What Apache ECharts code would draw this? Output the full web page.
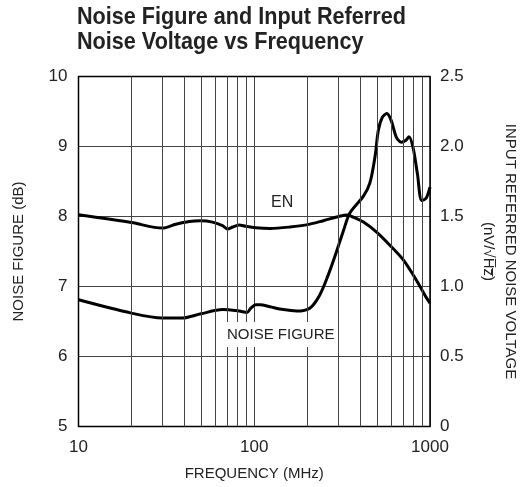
<!DOCTYPE html>
<html><head><meta charset="utf-8">
<script src="https://cdn.jsdelivr.net/npm/echarts@6/dist/echarts.min.js"></script>
<style>html,body{margin:0;padding:0;background:#fff}#c{width:523px;height:487px}</style>
</head><body><div id="c"></div>
<script>
// Data (frequency in MHz)
const enFreq = [10, 20, 30, 35.8, 42.7, 49.7, 57.9, 66, 70.5, 75.4, 82, 89.6, 102, 123, 160, 198, 247, 306, 340, 366, 418, 495, 591, 705, 837, 934, 1000];
const enValue = [1.512, 1.457, 1.417, 1.445, 1.465, 1.47, 1.46, 1.435, 1.41, 1.425, 1.44, 1.43, 1.42, 1.415, 1.425, 1.44, 1.47, 1.502, 1.51, 1.495, 1.46, 1.39, 1.295, 1.19, 1.045, 0.94, 0.88];
const nfFreq = [10, 20, 30, 39, 49.7, 66, 82, 91, 95.6, 102, 108, 123, 146, 174, 207, 236, 264, 294, 321, 350, 418, 455, 487, 508, 536, 568, 602, 644, 688, 729, 759, 800, 848, 897, 950, 1000];
const nfValue = [6.81, 6.62, 6.55, 6.55, 6.61, 6.67, 6.65, 6.63, 6.69, 6.74, 6.74, 6.71, 6.67, 6.65, 6.69, 6.88, 7.17, 7.5, 7.79, 8.05, 8.29, 8.48, 8.86, 9.23, 9.42, 9.47, 9.37, 9.13, 9.06, 9.09, 9.14, 8.99, 8.61, 8.23, 8.26, 8.42];
const minorGridFreq = [20, 30, 40, 50, 60, 70, 80, 90, 200, 300, 400, 500, 600, 700, 800, 900];
const rightTicks = ['0', '0.5', '1.0', '1.5', '2.0', '2.5'];

const FONT = "'Liberation Sans', Arial, sans-serif";
const TXT = '#222';
const chart = echarts.init(document.getElementById('c'), null, {renderer: 'canvas'});
chart.setOption({
  animation: false,
  grid: {left: 78.5, right: 93, top: 76.5, bottom: 60.5, outerBoundsMode: 'none'},
  xAxis: {
    type: 'log', logBase: 10, min: 10, max: 1000,
    name: 'FREQUENCY (MHz)', nameLocation: 'middle', nameGap: 40,
    nameTextStyle: {fontFamily: FONT, fontSize: 15, color: TXT},
    axisLine: {show: false}, axisTick: {show: false},
    axisLabel: {fontFamily: FONT, fontSize: 17, color: TXT, margin: 12, formatter: v => String(v)},
    splitLine: {show: true, lineStyle: {color: '#444', width: 1}}
  },
  yAxis: [{
    type: 'value', min: 5, max: 10, interval: 1,
    name: 'NOISE FIGURE (dB)', nameLocation: 'middle', nameGap: 52, nameRotate: 90,
    nameTextStyle: {fontFamily: FONT, fontSize: 15, color: TXT},
    axisLine: {show: false}, axisTick: {show: false},
    axisLabel: {fontFamily: FONT, fontSize: 17, color: TXT, margin: 11},
    splitLine: {show: true, lineStyle: {color: '#444', width: 1}}
  }, {
    type: 'value', min: 0, max: 2.5, interval: 0.5, position: 'right',
    name: 'INPUT REFERRED NOISE VOLTAGE\n(nV/√H\u0305z\u0305)', nameLocation: 'middle', nameGap: 47, nameRotate: -90,
    nameTextStyle: {fontFamily: FONT, fontSize: 15, color: TXT, lineHeight: 22, align: 'center'},
    axisLine: {show: false}, axisTick: {show: false},
    axisLabel: {fontFamily: FONT, fontSize: 17, color: TXT, margin: 10,
      formatter: (v) => rightTicks[Math.round(v / 0.5)]},
    splitLine: {show: false}
  }],
  series: [{
    type: 'line', name: 'EN', yAxisIndex: 1, symbol: 'none',
    smooth: 0.3,
    lineStyle: {color: '#000', width: 3},
    data: enFreq.map((f, i) => [f, enValue[i]]),
    markLine: {
      silent: true, symbol: 'none', label: {show: false},
      lineStyle: {color: '#444', width: 1, type: 'solid'},
      data: minorGridFreq.map(f => ({xAxis: f}))
    },
    z: 3
  }, {
    type: 'line', name: 'NOISE FIGURE', yAxisIndex: 0, symbol: 'none',
    smooth: 0.3,
    lineStyle: {color: '#000', width: 3},
    data: nfFreq.map((f, i) => [f, nfValue[i]]),
    z: 3
  }, {
    type: 'line', yAxisIndex: 0, symbol: 'none', silent: true,
    lineStyle: {width: 0}, data: [],
    markArea: {silent: true, itemStyle: {color: 'rgba(0,0,0,0)', borderColor: '#000', borderWidth: 1.5},
      data: [[{xAxis: 10, yAxis: 5}, {xAxis: 1000, yAxis: 10}]]}
  }],
  graphic: [
    {type: 'text', x: 77, y: 5, scaleX: 0.9, z: 10,
      style: {text: 'Noise Figure and Input Referred\nNoise Voltage vs Frequency', fontFamily: FONT, fontWeight: 'bold', fontSize: 24, lineHeight: 25, fill: TXT}},
    {type: 'text', x: 271, y: 195, z: 10,
      style: {text: 'EN', fontFamily: FONT, fontSize: 16, fill: TXT}},
    {type: 'text', x: 225, y: 322, z: 10,
      style: {text: 'NOISE FIGURE', fontFamily: FONT, fontSize: 15, fill: TXT, backgroundColor: '#fff', padding: [5, 2, 5, 2]}}
  ]
});
</script></body></html>
